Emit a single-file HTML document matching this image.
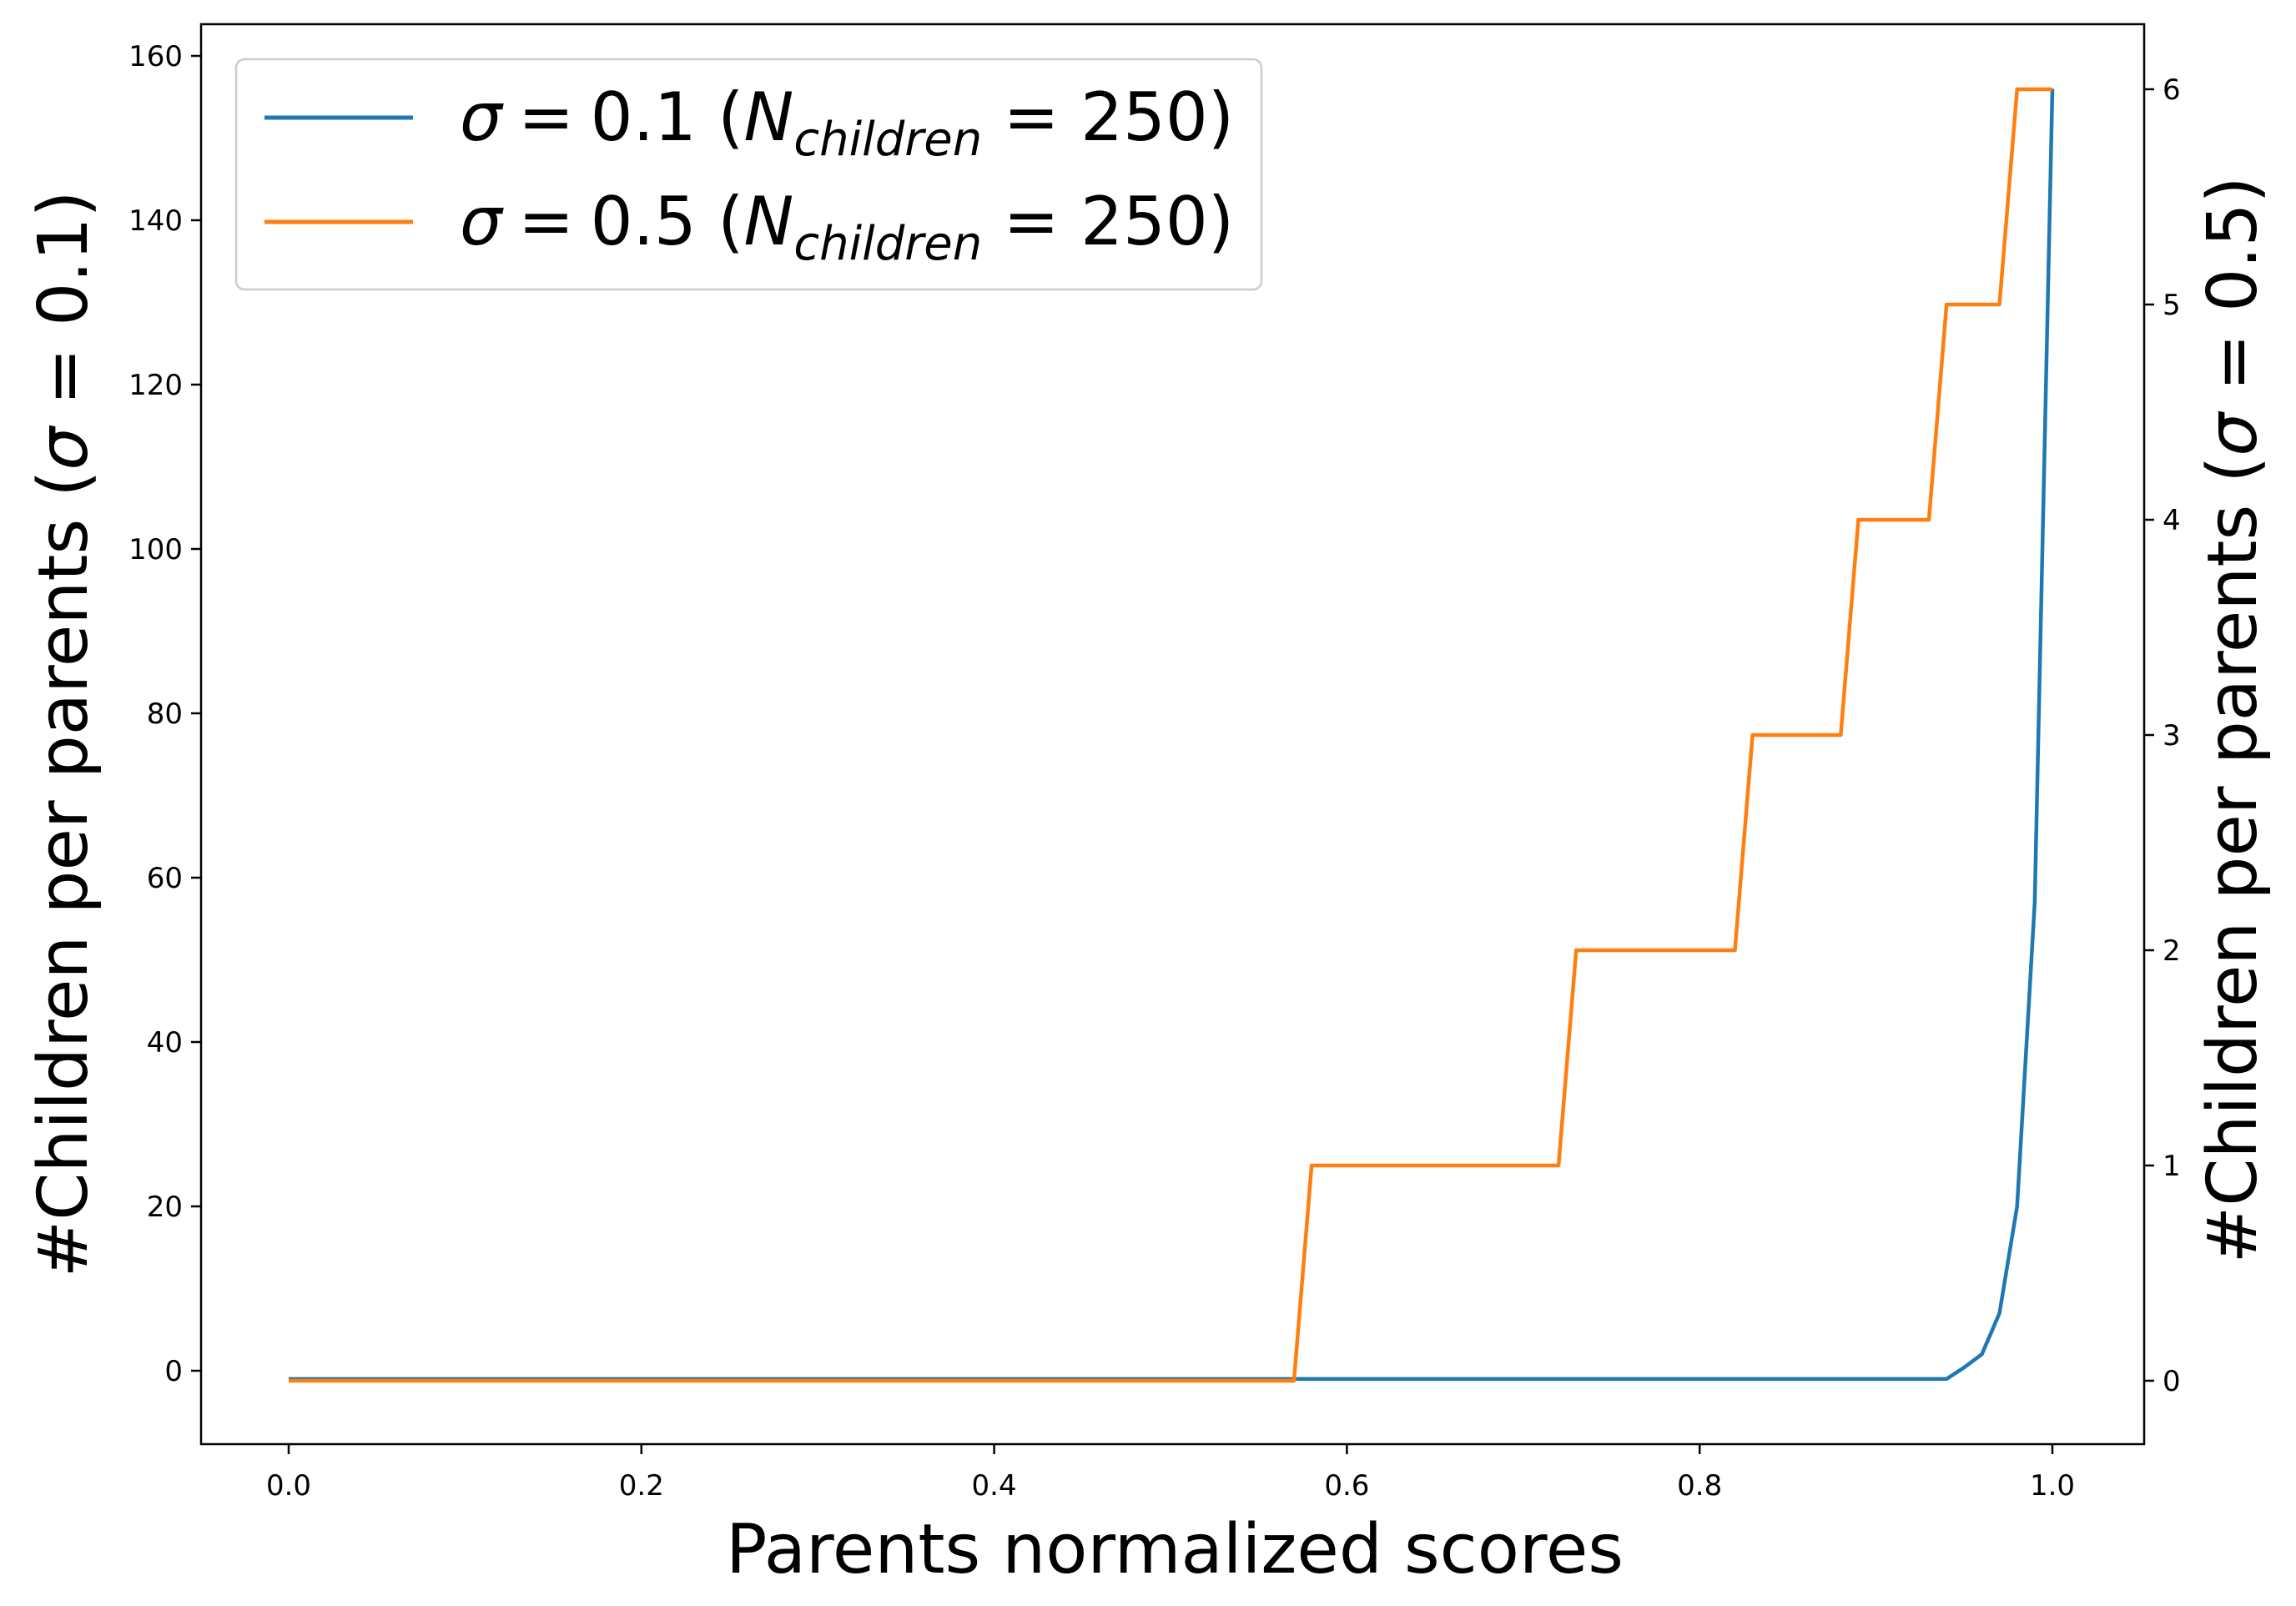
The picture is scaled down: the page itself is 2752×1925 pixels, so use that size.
<!DOCTYPE html>
<html><head><meta charset="utf-8"><style>
body{margin:0;background:#fff}
svg{display:block;font-family:"DejaVu Sans","Liberation Sans",sans-serif}
</style></head><body>
<svg width="2752" height="1925" viewBox="0 0 2752 1925" id="chart">
<rect width="2752" height="1925" fill="#fff"/>
<g id="plot"></g>
<rect x="241" y="29" width="2329" height="1702" fill="none" stroke="#000" stroke-width="2.5"/>
<g>
<rect x="283" y="71" width="1229" height="276" rx="10" fill="#fff" fill-opacity="0.8" stroke="#ccc" stroke-width="2.5"/>
<line x1="317" y1="141" x2="495" y2="141" stroke="#1f77b4" stroke-width="5"/>
<text x="551" y="168" font-size="80"><tspan font-style="italic">σ</tspan><tspan dx="-6"> = </tspan><tspan dx="-6">0.1 (</tspan><tspan font-style="italic">N</tspan><tspan font-style="italic" font-size="56" dy="18">children</tspan><tspan dy="-18"> = 250)</tspan></text>
<line x1="317" y1="266" x2="495" y2="266" stroke="#ff7f0e" stroke-width="5"/>
<text x="551" y="293" font-size="80"><tspan font-style="italic">σ</tspan><tspan dx="-6"> = </tspan><tspan dx="-6">0.5 (</tspan><tspan font-style="italic">N</tspan><tspan font-style="italic" font-size="56" dy="18">children</tspan><tspan dy="-18"> = 250)</tspan></text>
</g>
<text x="1408" y="1885" font-size="82" text-anchor="middle">Parents normalized scores</text>
<text transform="translate(104,880) rotate(-90)" font-size="82" text-anchor="middle">#Children per parents (<tspan font-style="italic">σ</tspan> = 0.1)</text>
<text transform="translate(2704,863) rotate(-90)" font-size="82" text-anchor="middle">#Children per parents (<tspan font-style="italic">σ</tspan> = 0.5)</text>
</svg>
<script>
const xTicks=[0,0.2,0.4,0.6,0.8,1.0];
const xTickLabels=["0.0","0.2","0.4","0.6","0.8","1.0"];
const yLeftTicks=[0,20,40,60,80,100,120,140,160];
const yRightTicks=[0,1,2,3,4,5,6];
const xs=[];for(let i=0;i<=100;i++)xs.push(i/100);
const blueVals=[-1,-1,-1,-1,-1,-1,-1,-1,-1,-1,-1,-1,-1,-1,-1,-1,-1,-1,-1,-1,-1,-1,-1,-1,-1,-1,-1,-1,-1,-1,-1,-1,-1,-1,-1,-1,-1,-1,-1,-1,-1,-1,-1,-1,-1,-1,-1,-1,-1,-1,-1,-1,-1,-1,-1,-1,-1,-1,-1,-1,-1,-1,-1,-1,-1,-1,-1,-1,-1,-1,-1,-1,-1,-1,-1,-1,-1,-1,-1,-1,-1,-1,-1,-1,-1,-1,-1,-1,-1,-1,-1,-1,-1,-1,-1,0.4,2,7,20,57,156];
const orangeVals=[0,0,0,0,0,0,0,0,0,0,0,0,0,0,0,0,0,0,0,0,0,0,0,0,0,0,0,0,0,0,0,0,0,0,0,0,0,0,0,0,0,0,0,0,0,0,0,0,0,0,0,0,0,0,0,0,0,0,1,1,1,1,1,1,1,1,1,1,1,1,1,1,1,2,2,2,2,2,2,2,2,2,2,3,3,3,3,3,3,4,4,4,4,4,5,5,5,5,6,6,6];
const X=v=>346+v*2114;
const YL=v=>1643-v*9.85;
const YR=v=>1655-v*258;
const NS="http://www.w3.org/2000/svg";
const g=document.getElementById('plot');
function mk(t,a){const e=document.createElementNS(NS,t);for(const k in a)e.setAttribute(k,a[k]);g.appendChild(e);return e;}
xTicks.forEach((t,i)=>{
 const l=mk('line',{x1:X(t),x2:X(t),y1:1731,y2:1743,stroke:'#000','stroke-width':2.5});
 
 
 const tx=mk('text',{x:X(t),y:1792,'font-size':34,'text-anchor':'middle'});tx.textContent=xTickLabels[i];
 
 
});
yLeftTicks.forEach(t=>{
 const l=mk('line',{x1:229,x2:241,y1:YL(t),y2:YL(t),stroke:'#000','stroke-width':2.5});
 
 
 const tx=mk('text',{x:219,y:YL(t)+12,'font-size':34,'text-anchor':'end'});tx.textContent=String(t);
 
 
});
yRightTicks.forEach(t=>{
 const l=mk('line',{x1:2570,x2:2582,y1:YR(t),y2:YR(t),stroke:'#000','stroke-width':2.5});
 
 
 const tx=mk('text',{x:2592,y:YR(t)+12,'font-size':34,'text-anchor':'start'});tx.textContent=String(t);
 
 
});
const pb=mk('polyline',{points:xs.map((x,i)=>X(x)+','+YL(blueVals[i])).join(' '),fill:'none',stroke:'#1f77b4','stroke-width':4.5,'stroke-linejoin':'round'});


const po=mk('polyline',{points:xs.map((x,i)=>X(x)+','+YR(orangeVals[i])).join(' '),fill:'none',stroke:'#ff7f0e','stroke-width':4.5,'stroke-linejoin':'round'});


</script>
</body></html>
